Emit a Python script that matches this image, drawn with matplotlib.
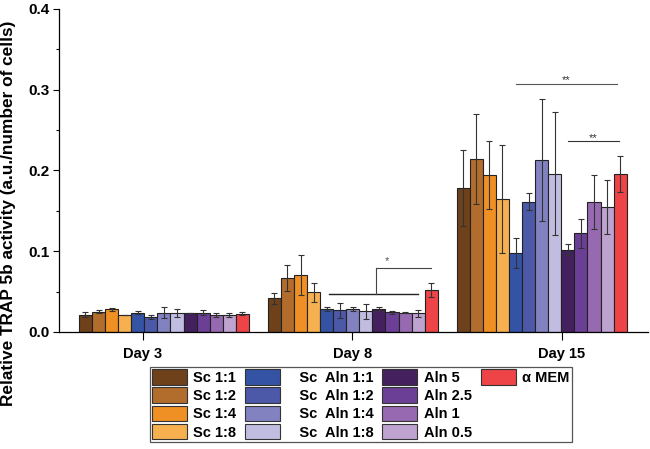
import numpy as np
import matplotlib
matplotlib.use("Agg")
import matplotlib.pyplot as plt
from matplotlib.patches import Patch

plt.rcParams['font.family'] = ['Liberation Sans', 'DejaVu Sans']
plt.rcParams['font.weight'] = 'bold'

# datos
dias = ['Day 3', 'Day 8', 'Day 15']
grupos = ['Sc 1:1', 'Sc 1:2', 'Sc 1:4', 'Sc 1:8',
          'Sc Aln 1:1', 'Sc Aln 1:2', 'Sc Aln 1:4', 'Sc Aln 1:8',
          'Aln 5', 'Aln 2.5', 'Aln 1', 'Aln 0.5', 'α MEM']
etiquetas = ['Sc 1:1', 'Sc 1:2', 'Sc 1:4', 'Sc 1:8',
             '   Sc  Aln 1:1', '   Sc  Aln 1:2', '   Sc  Aln 1:4', '   Sc  Aln 1:8',
             'Aln 5', 'Aln 2.5', 'Aln 1', 'Aln 0.5', 'α MEM']
colores = ['#6e411b', '#b26c2c', '#ef9024', '#f6b04f',
           '#3553a5', '#4c58a8', '#8282c1', '#c0bde1',
           '#44205e', '#6c3f97', '#9669b0', '#bea2cf', '#ee4447']

dia3 = [0.0214, 0.025, 0.028, 0.021, 0.024, 0.0185, 0.024, 0.0235, 0.0235, 0.024, 0.021, 0.021, 0.0226]
err3 = [0.003, 0.002, 0.002, 0.0, 0.002, 0.002, 0.007, 0.005, 0.0, 0.003, 0.003, 0.002, 0.002]
dia8 = [0.042, 0.067, 0.0706, 0.049, 0.0285, 0.0268, 0.0285, 0.0256, 0.0285, 0.0244, 0.024, 0.023, 0.0516]
err8 = [0.0068, 0.0165, 0.025, 0.0116, 0.003, 0.009, 0.002, 0.0095, 0.003, 0.002, 0.001, 0.0045, 0.0085]
dia15 = [0.178, 0.214, 0.1945, 0.165, 0.098, 0.1615, 0.213, 0.196, 0.102, 0.122, 0.1615, 0.155, 0.196]
err15 = [0.047, 0.0555, 0.042, 0.067, 0.019, 0.011, 0.0755, 0.076, 0.0064, 0.0178, 0.0334, 0.0338, 0.0223]

valores = np.array([dia3, dia8, dia15])
errores = np.array([err3, err8, err15])

fig = plt.figure(figsize=(6.5, 4.49), dpi=100)
ax = fig.add_axes([0.0912, 0.2606, 0.9058, 0.7194])

ancho = 0.0692
centros = np.arange(len(dias))
for i, g in enumerate(grupos):
    x = centros + (i - 6) * ancho
    ax.bar(x, valores[:, i], width=ancho, color=colores[i], edgecolor='#222222',
           linewidth=0.8, zorder=2)
    ax.errorbar(x, valores[:, i], yerr=errores[:, i], fmt='none', ecolor='#333333',
                elinewidth=0.8, capsize=2.3, capthick=0.8, zorder=3)

# lineas de significancia
gris = '#444444'
ax.plot([0.874, 1.343], [0.0474, 0.0474], color='#222222', lw=1.0)
ax.plot([1.124, 1.124], [0.0474, 0.0796], color=gris, lw=0.8)
ax.plot([1.124, 1.414], [0.0796, 0.0796], color=gris, lw=0.8)
ax.text(1.179, 0.0815, '*', ha='center', va='bottom', fontsize=8, color='#555555', fontweight='normal')
ax.plot([1.862, 2.40], [0.3075, 0.3075], color='#555555', lw=0.8)
ax.text(2.129, 0.3055, '**', ha='center', va='bottom', fontsize=8, color='#333333', fontweight='normal')
ax.plot([2.138, 2.411], [0.2365, 0.2365], color='#333333', lw=0.8)
ax.text(2.272, 0.2345, '**', ha='center', va='bottom', fontsize=8, color='#333333', fontweight='normal')

ax.set_xlim(-0.554, 2.563)
ax.set_ylim(0, 0.4)
ax.set_xticks([-0.111, 0.998, 2.106])
ax.set_xticklabels(dias, fontsize=10.5, fontweight='bold')
ax.set_yticks([0.0, 0.1, 0.2, 0.3, 0.4])
ax.set_yticklabels(['0.0', '0.1', '0.2', '0.3', '0.4'], fontsize=11, fontweight='bold')
ax.set_yticks([0.05, 0.15, 0.25, 0.35], minor=True)
ax.tick_params(axis='y', which='major', length=4.3, width=0.8, pad=2.5)
ax.tick_params(axis='y', which='minor', length=2.5, width=0.8)
ax.tick_params(axis='x', length=5.5, width=0.8, pad=5)
ax.spines['top'].set_visible(False)
ax.spines['right'].set_visible(False)
ax.spines['left'].set_linewidth(0.9)
ax.spines['bottom'].set_linewidth(0.9)

fig.text(0.013, 0.526, 'Relative TRAP 5b activity (a.u./number of cells)', rotation=90,
         ha='center', va='center', fontsize=12.4, fontweight='bold')

# leyenda: 4 columnas de 4 filas, con huecos vacios en la ultima
manejadores = [Patch(facecolor=colores[i], edgecolor='#333333', linewidth=0.8) for i in range(len(grupos))]
textos = list(etiquetas)
for k in range(3):
    manejadores.append(Patch(facecolor='none', edgecolor='none'))
    textos.append('')
leg = ax.legend(manejadores, textos, ncol=4, loc='upper center',
                bbox_to_anchor=(0.555, 0.1826), bbox_transform=fig.transFigure,
                prop={'weight': 'bold', 'size': 10.5}, fancybox=False, framealpha=1,
                edgecolor='#555555', handlelength=2.4, handleheight=1.25,
                handletextpad=0.45, columnspacing=0.6, labelspacing=0.18, borderpad=0.15,
                borderaxespad=0)
leg.get_frame().set_linewidth(0.9)

fig.savefig('out.png', dpi=100)
